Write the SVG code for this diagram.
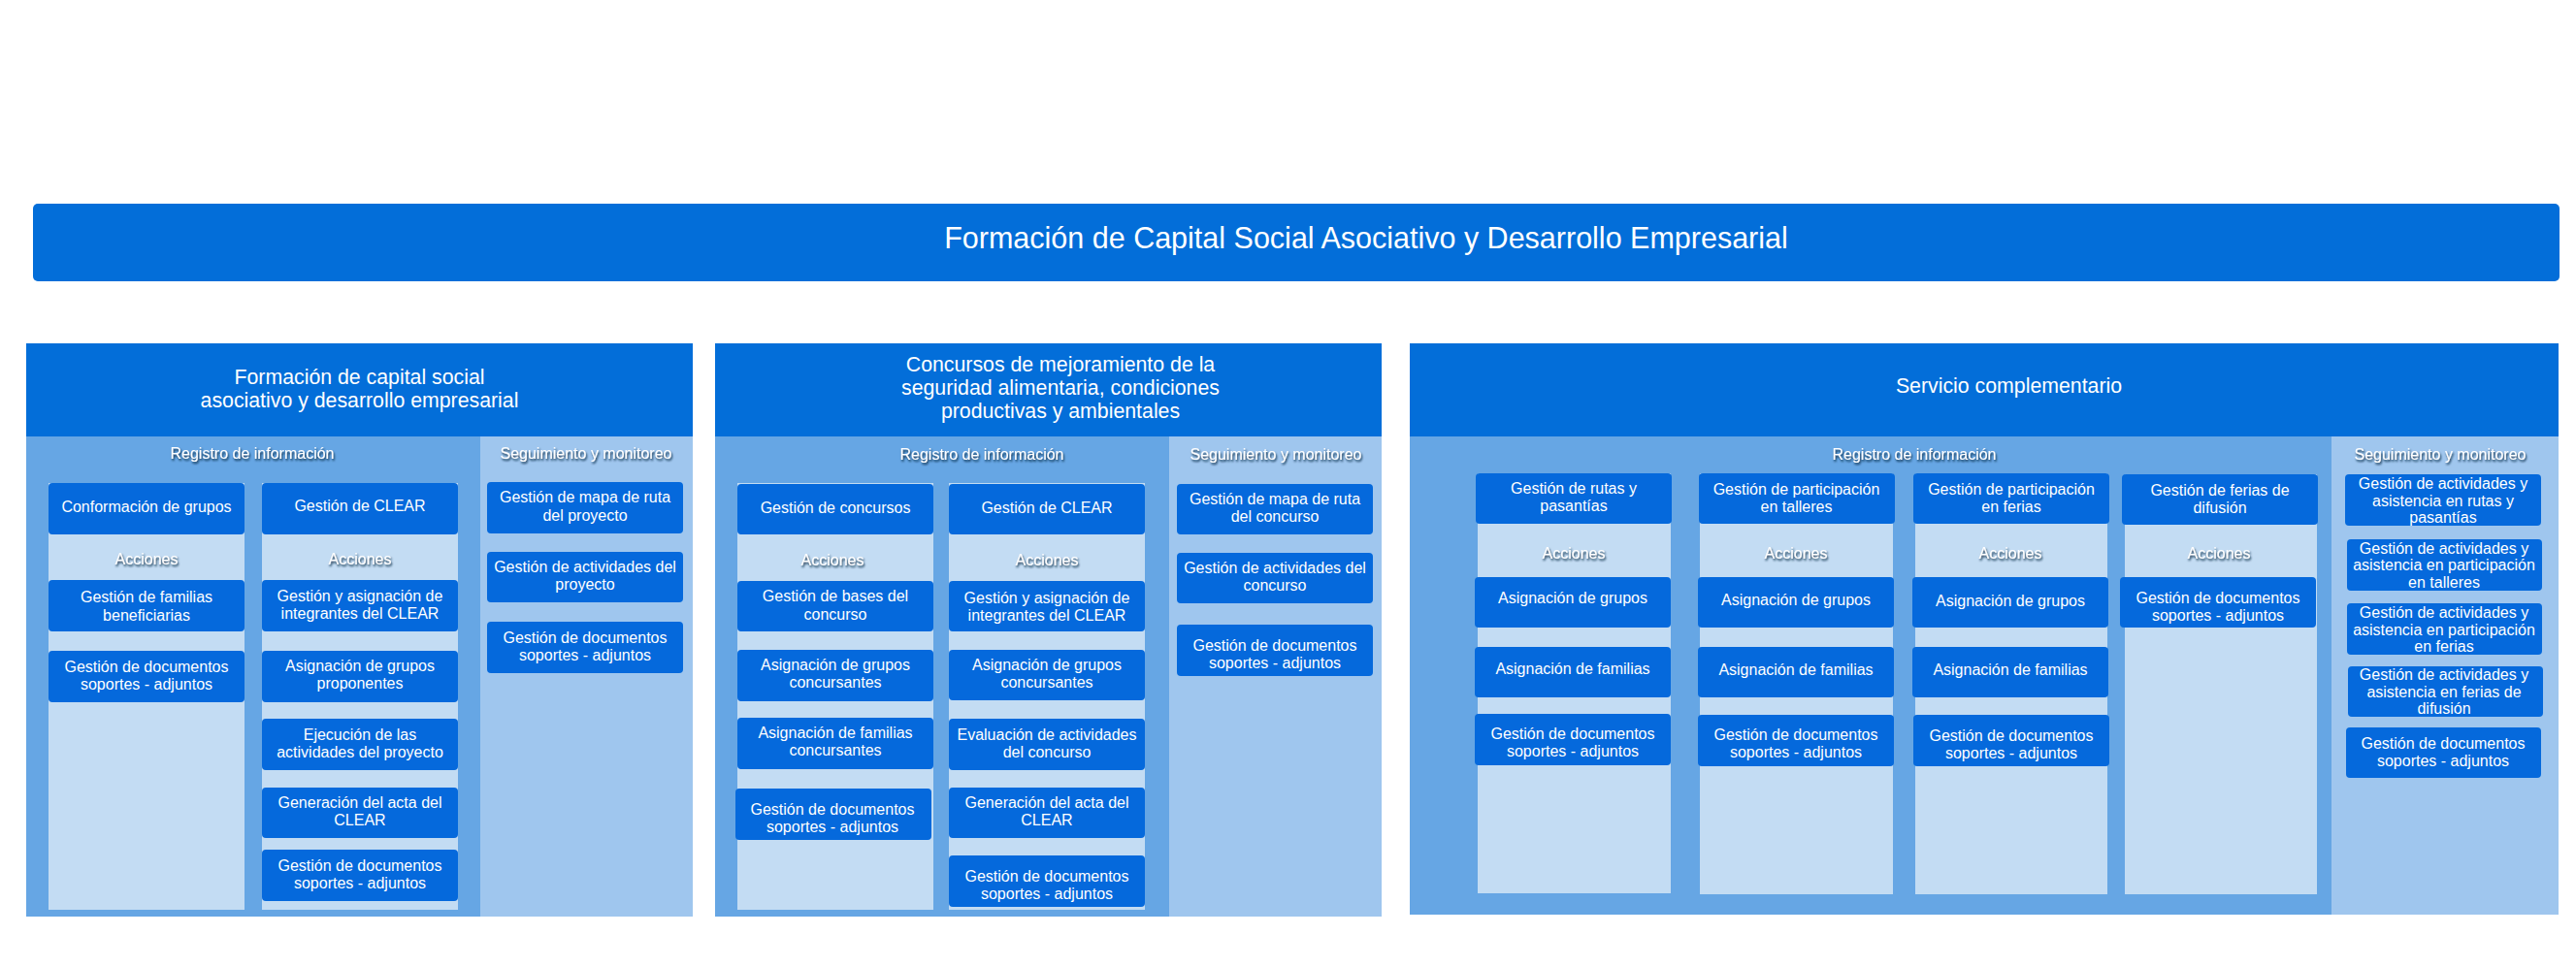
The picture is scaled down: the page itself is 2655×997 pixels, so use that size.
<svg xmlns="http://www.w3.org/2000/svg" width="2655" height="997" viewBox="0 0 2655 997">
<defs>
<filter id="sh" x="-10%" y="-40%" width="120%" height="190%">
<feDropShadow dx="1" dy="2" stdDeviation="1.3" flood-color="#0d2540" flood-opacity="1"/>
</filter>
</defs>
<style>
text{font-family:"Liberation Sans",Arial,Helvetica,sans-serif;fill:#fff;text-anchor:middle}
.t{font-size:16px}
.h{font-size:21.3px}
.ttl{font-size:30.5px}
.lbl{font-size:16px;filter:url(#sh)}
.hdr{fill:#036ed9}
.reg{fill:#66a6e4}
.seg{fill:#9fc6ee}
.col{fill:#c3dcf3}
.box{fill:#0569dc}
</style>
<rect width="2655" height="997" fill="#fff"/>

<g id="title">
<rect x="34" y="210" width="2604" height="80" rx="5" class="hdr"/>
<text class="ttl" x="1408" y="256">Formación de Capital Social Asociativo y Desarrollo Empresarial</text>
</g>

<!-- Panel 1 -->
<g id="panel1">
<rect x="27" y="354" width="687" height="96" class="hdr"/>
<rect x="27" y="450" width="468" height="495" class="reg"/>
<rect x="495" y="450" width="219" height="495" class="seg"/>
<text class="h" x="370.5" y="396">Formación de capital social</text>
<text class="h" x="370.5" y="420">asociativo y desarrollo empresarial</text>
<text class="lbl" x="260" y="473">Registro de información</text>
<text class="lbl" x="604" y="473">Seguimiento y monitoreo</text>
<rect x="50" y="498" width="202" height="440" class="col"/>
<rect x="270" y="498" width="202" height="440" class="col"/>
<text class="lbl" x="151" y="582">Acciones</text>
<text class="lbl" x="371" y="582">Acciones</text>
</g>
<g id="p1c1-h"><rect x="50" y="498" width="202" height="53" rx="4" class="box"/><text class="t" x="151" y="528">Conformación de grupos</text></g>
<g id="p1c1-a1"><rect x="50" y="598" width="202" height="53" rx="4" class="box"/><text class="t" x="151" y="621">Gestión de familias</text><text class="t" x="151" y="639.5">beneficiarias</text></g>
<g id="p1c1-a2"><rect x="50" y="671" width="202" height="53" rx="4" class="box"/><text class="t" x="151" y="693">Gestión de documentos</text><text class="t" x="151" y="711">soportes - adjuntos</text></g>
<g id="p1c2-h"><rect x="270" y="498" width="202" height="53" rx="4" class="box"/><text class="t" x="371" y="527">Gestión de CLEAR</text></g>
<g id="p1c2-a1"><rect x="270" y="598" width="202" height="53" rx="4" class="box"/><text class="t" x="371" y="620">Gestión y asignación de</text><text class="t" x="371" y="638">integrantes del CLEAR</text></g>
<g id="p1c2-a2"><rect x="270" y="671" width="202" height="53" rx="4" class="box"/><text class="t" x="371" y="691.5">Asignación de grupos</text><text class="t" x="371" y="709.5">proponentes</text></g>
<g id="p1c2-a3"><rect x="270" y="741" width="202" height="53" rx="4" class="box"/><text class="t" x="371" y="762.5">Ejecución de las</text><text class="t" x="371" y="780.5">actividades del proyecto</text></g>
<g id="p1c2-a4"><rect x="270" y="812" width="202" height="52" rx="4" class="box"/><text class="t" x="371" y="832.5">Generación del acta del</text><text class="t" x="371" y="850.5">CLEAR</text></g>
<g id="p1c2-a5"><rect x="270" y="876" width="202" height="53" rx="4" class="box"/><text class="t" x="371" y="897.5">Gestión de documentos</text><text class="t" x="371" y="915.5">soportes - adjuntos</text></g>
<g id="p1s-1"><rect x="502" y="497" width="202" height="53" rx="4" class="box"/><text class="t" x="603" y="518">Gestión de mapa de ruta</text><text class="t" x="603" y="536.5">del proyecto</text></g>
<g id="p1s-2"><rect x="502" y="569" width="202" height="52" rx="4" class="box"/><text class="t" x="603" y="589.5">Gestión de actividades del</text><text class="t" x="603" y="607.5">proyecto</text></g>
<g id="p1s-3"><rect x="502" y="641" width="202" height="53" rx="4" class="box"/><text class="t" x="603" y="662.5">Gestión de documentos</text><text class="t" x="603" y="680.5">soportes - adjuntos</text></g>

<!-- Panel 2 -->
<g id="panel2">
<rect x="737" y="354" width="687" height="96" class="hdr"/>
<rect x="737" y="450" width="468" height="495" class="reg"/>
<rect x="1205" y="450" width="219" height="495" class="seg"/>
<text class="h" x="1093" y="383">Concursos de mejoramiento de la</text>
<text class="h" x="1093" y="407">seguridad alimentaria, condiciones</text>
<text class="h" x="1093" y="430.5">productivas y ambientales</text>
<text class="lbl" x="1012" y="474">Registro de información</text>
<text class="lbl" x="1315" y="474">Seguimiento y monitoreo</text>
<rect x="760" y="498" width="202" height="440" class="col"/>
<rect x="978" y="498" width="202" height="440" class="col"/>
<text class="lbl" x="858" y="583">Acciones</text>
<text class="lbl" x="1079" y="583">Acciones</text>
</g>
<g id="p2c1-h"><rect x="760" y="499" width="202" height="52" rx="4" class="box"/><text class="t" x="861" y="529">Gestión de concursos</text></g>
<g id="p2c1-a1"><rect x="760" y="599" width="202" height="52" rx="4" class="box"/><text class="t" x="861" y="620">Gestión de bases del</text><text class="t" x="861" y="638.5">concurso</text></g>
<g id="p2c1-a2"><rect x="760" y="670" width="202" height="53" rx="4" class="box"/><text class="t" x="861" y="691">Asignación de grupos</text><text class="t" x="861" y="709">concursantes</text></g>
<g id="p2c1-a3"><rect x="760" y="740" width="202" height="53" rx="4" class="box"/><text class="t" x="861" y="761">Asignación de familias</text><text class="t" x="861" y="779">concursantes</text></g>
<g id="p2c1-a4"><rect x="758" y="813" width="202" height="53" rx="4" class="box"/><text class="t" x="858" y="840">Gestión de documentos</text><text class="t" x="858" y="858">soportes - adjuntos</text></g>
<g id="p2c2-h"><rect x="978" y="499" width="202" height="52" rx="4" class="box"/><text class="t" x="1079" y="529">Gestión de CLEAR</text></g>
<g id="p2c2-a1"><rect x="978" y="599" width="202" height="52" rx="4" class="box"/><text class="t" x="1079" y="622">Gestión y asignación de</text><text class="t" x="1079" y="640">integrantes del CLEAR</text></g>
<g id="p2c2-a2"><rect x="978" y="670" width="202" height="52" rx="4" class="box"/><text class="t" x="1079" y="691">Asignación de grupos</text><text class="t" x="1079" y="709">concursantes</text></g>
<g id="p2c2-a3"><rect x="978" y="741" width="202" height="53" rx="4" class="box"/><text class="t" x="1079" y="763">Evaluación de actividades</text><text class="t" x="1079" y="781">del concurso</text></g>
<g id="p2c2-a4"><rect x="978" y="812" width="202" height="52" rx="4" class="box"/><text class="t" x="1079" y="833">Generación del acta del</text><text class="t" x="1079" y="851">CLEAR</text></g>
<g id="p2c2-a5"><rect x="978" y="882" width="202" height="53" rx="4" class="box"/><text class="t" x="1079" y="909">Gestión de documentos</text><text class="t" x="1079" y="927">soportes - adjuntos</text></g>
<g id="p2s-1"><rect x="1213" y="499" width="202" height="52" rx="4" class="box"/><text class="t" x="1314" y="520">Gestión de mapa de ruta</text><text class="t" x="1314" y="538">del concurso</text></g>
<g id="p2s-2"><rect x="1213" y="570" width="202" height="52" rx="4" class="box"/><text class="t" x="1314" y="591">Gestión de actividades del</text><text class="t" x="1314" y="609">concurso</text></g>
<g id="p2s-3"><rect x="1213" y="644" width="202" height="53" rx="4" class="box"/><text class="t" x="1314" y="671">Gestión de documentos</text><text class="t" x="1314" y="689">soportes - adjuntos</text></g>

<!-- Panel 3 -->
<g id="panel3">
<rect x="1453" y="354" width="1184" height="96" class="hdr"/>
<rect x="1453" y="450" width="950" height="493" class="reg"/>
<rect x="2403" y="450" width="234" height="493" class="seg"/>
<text class="h" x="2070.5" y="405">Servicio complementario</text>
<text class="lbl" x="1973" y="474">Registro de información</text>
<text class="lbl" x="2515" y="474">Seguimiento y monitoreo</text>
<rect x="1523" y="488" width="199" height="433" class="col"/>
<rect x="1752" y="488" width="199" height="434" class="col"/>
<rect x="1974" y="488" width="198" height="434" class="col"/>
<rect x="2190" y="489" width="198" height="433" class="col"/>
<text class="lbl" x="1622" y="576">Acciones</text>
<text class="lbl" x="1851" y="576">Acciones</text>
<text class="lbl" x="2072" y="576">Acciones</text>
<text class="lbl" x="2287" y="576">Acciones</text>
</g>
<g id="p3c1-h"><rect x="1521" y="488" width="202" height="52" rx="4" class="box"/><text class="t" x="1622" y="509">Gestión de rutas y</text><text class="t" x="1622" y="527">pasantías</text></g>
<g id="p3c1-a1"><rect x="1520" y="595" width="202" height="52" rx="4" class="box"/><text class="t" x="1621" y="621.5">Asignación de grupos</text></g>
<g id="p3c1-a2"><rect x="1520" y="667" width="202" height="52" rx="4" class="box"/><text class="t" x="1621" y="694.5">Asignación de familias</text></g>
<g id="p3c1-a3"><rect x="1520" y="736" width="202" height="53" rx="4" class="box"/><text class="t" x="1621" y="762">Gestión de documentos</text><text class="t" x="1621" y="780">soportes - adjuntos</text></g>
<g id="p3c2-h"><rect x="1751" y="488" width="202" height="52" rx="4" class="box"/><text class="t" x="1851.5" y="510">Gestión de participación</text><text class="t" x="1851.5" y="528">en talleres</text></g>
<g id="p3c2-a1"><rect x="1750" y="595" width="202" height="52" rx="4" class="box"/><text class="t" x="1851" y="623.5">Asignación de grupos</text></g>
<g id="p3c2-a2"><rect x="1750" y="667" width="202" height="52" rx="4" class="box"/><text class="t" x="1851" y="695.5">Asignación de familias</text></g>
<g id="p3c2-a3"><rect x="1750" y="737" width="202" height="53" rx="4" class="box"/><text class="t" x="1851" y="763">Gestión de documentos</text><text class="t" x="1851" y="781">soportes - adjuntos</text></g>
<g id="p3c3-h"><rect x="1972" y="488" width="202" height="52" rx="4" class="box"/><text class="t" x="2073" y="510">Gestión de participación</text><text class="t" x="2073" y="528">en ferias</text></g>
<g id="p3c3-a1"><rect x="1971" y="595" width="202" height="52" rx="4" class="box"/><text class="t" x="2072" y="625">Asignación de grupos</text></g>
<g id="p3c3-a2"><rect x="1971" y="667" width="202" height="52" rx="4" class="box"/><text class="t" x="2072" y="695.5">Asignación de familias</text></g>
<g id="p3c3-a3"><rect x="1972" y="737" width="202" height="53" rx="4" class="box"/><text class="t" x="2073" y="764">Gestión de documentos</text><text class="t" x="2073" y="782">soportes - adjuntos</text></g>
<g id="p3c4-h"><rect x="2187" y="489" width="202" height="52" rx="4" class="box"/><text class="t" x="2288" y="511">Gestión de ferias de</text><text class="t" x="2288" y="529">difusión</text></g>
<g id="p3c4-a1"><rect x="2185" y="595" width="202" height="52" rx="4" class="box"/><text class="t" x="2286" y="621.5">Gestión de documentos</text><text class="t" x="2286" y="640">soportes - adjuntos</text></g>
<g id="p3s-1"><rect x="2417" y="489" width="202" height="53" rx="4" class="box"/><text class="t" x="2518" y="504">Gestión de actividades y</text><text class="t" x="2518" y="521.5">asistencia en rutas y</text><text class="t" x="2518" y="539">pasantías</text></g>
<g id="p3s-2"><rect x="2419" y="556" width="201" height="53" rx="4" class="box"/><text class="t" x="2519" y="570.5">Gestión de actividades y</text><text class="t" x="2519" y="588">asistencia en participación</text><text class="t" x="2519" y="605.5">en talleres</text></g>
<g id="p3s-3"><rect x="2419" y="622" width="201" height="53" rx="4" class="box"/><text class="t" x="2519" y="636.5">Gestión de actividades y</text><text class="t" x="2519" y="654.5">asistencia en participación</text><text class="t" x="2519" y="672">en ferias</text></g>
<g id="p3s-4"><rect x="2420" y="687" width="201" height="52" rx="4" class="box"/><text class="t" x="2519" y="700.5">Gestión de actividades y</text><text class="t" x="2519" y="718.5">asistencia en ferias de</text><text class="t" x="2519" y="736">difusión</text></g>
<g id="p3s-5"><rect x="2418" y="750" width="201" height="52" rx="4" class="box"/><text class="t" x="2518" y="771.5">Gestión de documentos</text><text class="t" x="2518" y="790">soportes - adjuntos</text></g>

<g id="connectors"/>
</svg>
